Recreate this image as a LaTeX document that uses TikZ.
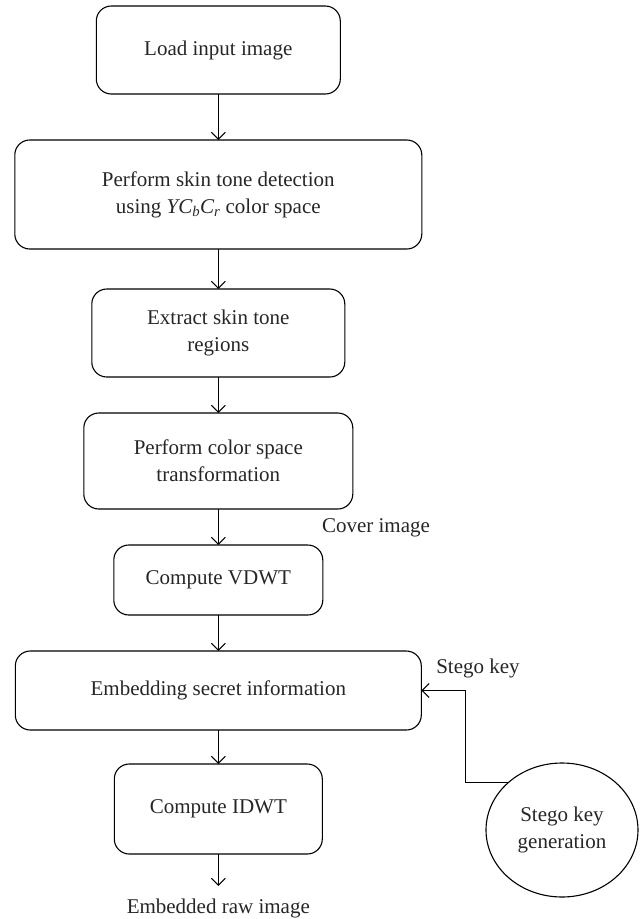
\documentclass[tikz,border=0pt]{standalone}
\usepackage{fontspec}
\setmainfont{Liberation Serif}
\usetikzlibrary{arrows.meta,shapes.geometric}
\begin{document}
\begin{tikzpicture}[x=1pt,y=-1pt,
  font=\fontsize{21}{27}\selectfont,
  every node/.style={inner sep=0pt, outer sep=0pt},
  procbox/.style={draw, line width=1.1pt, rounded corners=15pt, align=center, text=black!85},
  keycirc/.style={draw, line width=1.1pt, ellipse, align=center, text=black!85},
  lbl/.style={text=black!85},
  arr/.style={line width=1.1pt, -{Straight Barb[length=7pt,width=14pt,line width=1.1pt]}}
]
\useasboundingbox (0,0) rectangle (643,919);
\node[procbox, minimum width=244pt, minimum height=88pt] (b1) at (218.3,50) {Load input image};
\node[procbox, minimum width=407pt, minimum height=109pt] (b2) at (218.3,194.5) {Perform skin tone detection\\using {\itshape YC}\textsubscript{\itshape b}{\itshape C}\textsubscript{\itshape r} color space};
\node[procbox, minimum width=253pt, minimum height=88pt] (b3) at (218.3,333) {Extract skin tone\\regions};
\node[procbox, minimum width=269pt, minimum height=96pt] (b4) at (218.3,461) {Perform color space\\transformation};
\node[procbox, minimum width=209pt, minimum height=70pt] (b5) at (218.3,580) {Compute VDWT};
\node[procbox, minimum width=406pt, minimum height=79pt] (b6) at (218.3,690.5) {Embedding secret information};
\node[procbox, minimum width=208pt, minimum height=90pt] (b7) at (218.3,809) {Compute IDWT};
\node[keycirc, minimum width=152pt, minimum height=134pt] (kg) at (562,830) {Stego key\\generation};
\node[lbl] (cover) at (376,528) {Cover image};
\node[lbl] (skey) at (478,668) {Stego key};
\node[lbl] (out) at (218.3,908) {Embedded raw image};
\coordinate (outtip) at (218.3,886);

\draw[arr] (b1.south) -- (b2.north);
\draw[arr] (b2.south) -- (b3.north);
\draw[arr] (b3.south) -- (b4.north);
\draw[arr] (b4.south) -- (b5.north);
\draw[arr] (b5.south) -- (b6.north);
\draw[arr] (b6.south) -- (b7.north);
\draw[arr] (b7.south) -- (outtip);
\draw[arr] (kg.north west) -- ++(-43,0) |- (b6.east);
\end{tikzpicture}
\end{document}
